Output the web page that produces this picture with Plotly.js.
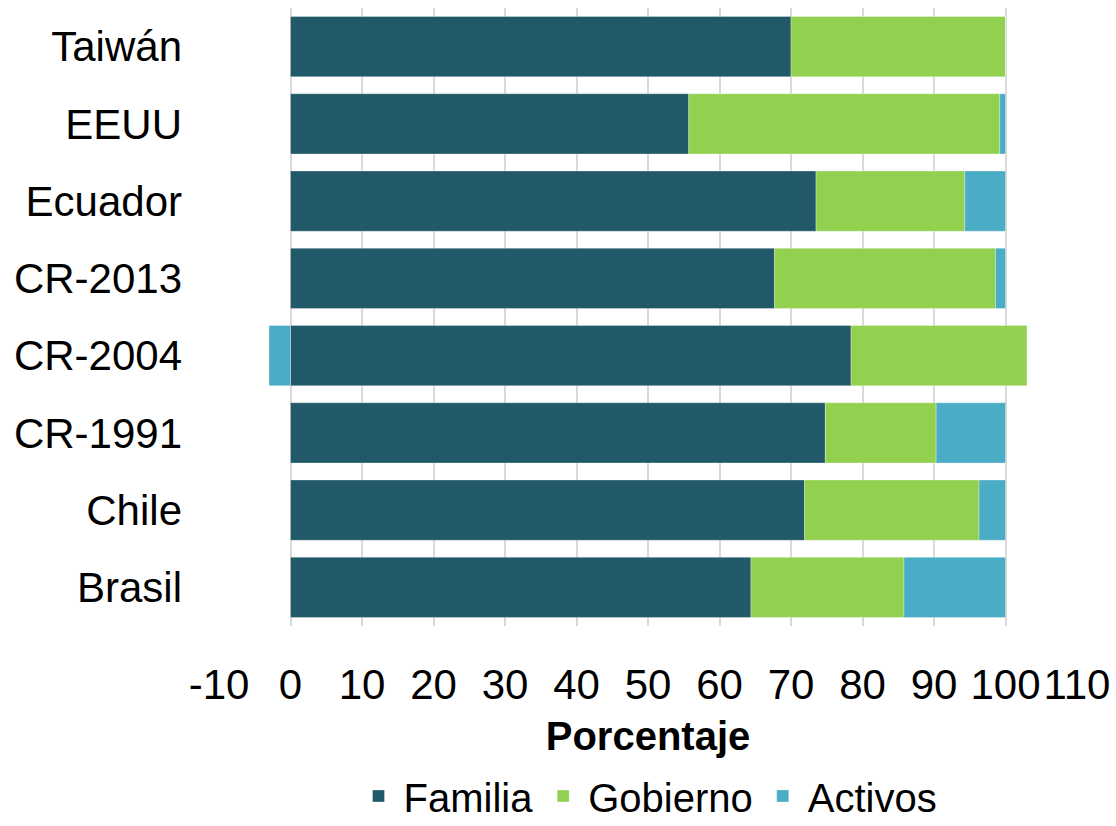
<!DOCTYPE html>
<html>
<head>
<meta charset="utf-8">
<script src="https://cdn.plot.ly/plotly-3.0.1.min.js"></script>
<style>html,body{margin:0;padding:0;background:#fff}#chart{width:1116px;height:826px}</style>
</head>
<body>
<div id="chart"></div>
<script>
var categories = ["Taiwán", "EEUU", "Ecuador", "CR-2013", "CR-2004", "CR-1991", "Chile", "Brasil"];
var familia  = [70.0, 55.7, 73.5, 67.7, 78.4, 74.8, 71.9, 64.4];
var gobierno = [30.0, 43.5, 20.8, 30.9, 24.6, 15.5, 24.4, 21.4];
var activos  = [0.0, 0.8, 5.7, 1.4, -3.0, 9.7, 3.7, 14.2];
var tickVals = [-10, 0, 10, 20, 30, 40, 50, 60, 70, 80, 90, 100, 110];

var font = "Liberation Sans, Arial, sans-serif";
function mk(name, vals, color) {
  return {type: "bar", orientation: "h", name: name, x: vals, y: categories,
    marker: {color: color, line: {color: "rgba(255,255,255,0.6)", width: 0.5}},
    hoverinfo: "x+name"};
}
var data = [
  mk("Familia", familia, "#215968"),
  mk("Gobierno", gobierno, "#92d050"),
  mk("Activos", activos, "#4bacc6")
];
var layout = {
  width: 1116, height: 826,
  margin: {l: 219, r: 39, t: 8, b: 200, autoexpand: false},
  barmode: "relative",
  bargap: 0.22,
  paper_bgcolor: "#fff", plot_bgcolor: "#fff",
  font: {family: font, size: 42, color: "#000"},
  xaxis: {
    range: [-10, 110], tickvals: tickVals, ticktext: tickVals.map(String),
    showgrid: true, gridcolor: "#d9d9d9", gridwidth: 1.5,
    zeroline: false, showline: false, ticks: "", automargin: false,
    ticklabelstandoff: 30,
    tickfont: {size: 42, family: font},
    title: {text: "<b>Porcentaje</b>", font: {size: 40, family: font}, standoff: 14}
  },
  yaxis: {
    autorange: "reversed", showgrid: false, zeroline: false, showline: false,
    ticks: "", ticklabelstandoff: 36, automargin: false,
    tickfont: {size: 42, family: font}
  },
  showlegend: true,
  legend: {orientation: "h", x: 0.5, xanchor: "center", y: -0.275, yanchor: "middle",
    font: {size: 40, family: font}, traceorder: "normal", itemwidth: 40}
};
Plotly.newPlot("chart", data, layout, {displayModeBar: false});
</script>
</body>
</html>
